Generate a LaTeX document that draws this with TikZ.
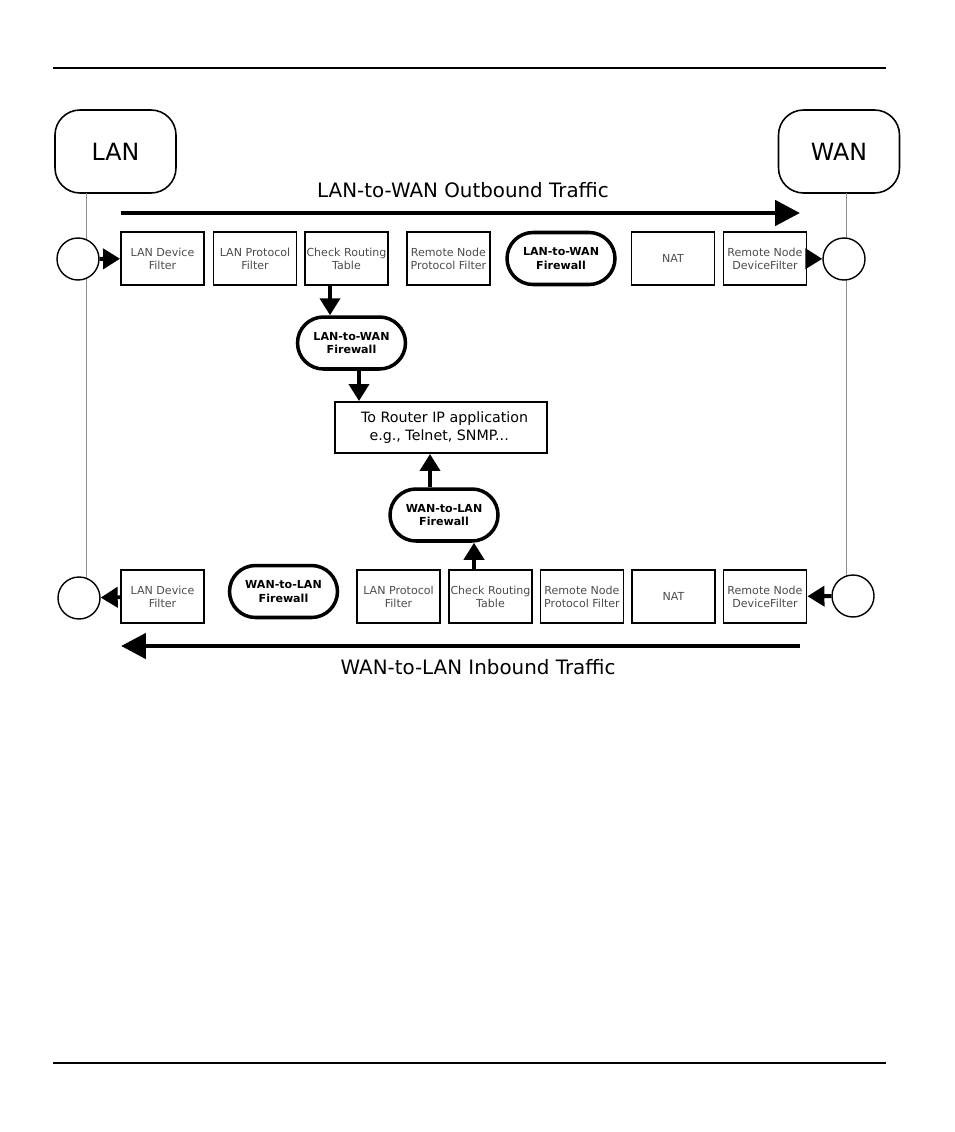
\documentclass[tikz,border=0pt]{standalone}
\usepackage{fontspec}
\setmainfont{DejaVu Sans}
\usetikzlibrary{arrows.meta,shapes.misc}
\tikzset{
filterbox/.style={draw, line width=1.1pt, minimum width=1.66cm, minimum height=1.06cm,
  inner sep=0pt, align=center, text=black!70, font=\fontsize{6.3}{7.4}\selectfont},
firewall/.style={draw, line width=2pt, rounded rectangle, minimum width=2.16cm,
  minimum height=1.04cm, inner sep=0pt, align=center, font=\bfseries\fontsize{6.3}{7.6}\selectfont},
site/.style={draw, line width=0.9pt, rounded corners=0.5cm, minimum width=2.42cm,
  minimum height=1.66cm, inner sep=0pt, font=\fontsize{13.5}{16}\selectfont},
port/.style={draw, circle, fill=white, line width=0.8pt, minimum size=0.84cm, inner sep=0pt},
hop/.style={line width=2.2pt, -{Triangle[length=0.34cm,width=0.4cm]}},
flow/.style={line width=2.8pt, -{Triangle[length=0.5cm,width=0.5cm]}},
wire/.style={black!45, line width=0.5pt},
flowtext/.style={font=\fontsize{11.3}{13}\selectfont, inner sep=0pt}
}
\begin{document}
\begin{tikzpicture}[x=0.02cm, y=-0.02cm]
\useasboundingbox (0,0) rectangle (954,1132);
% page rules
\coordinate (ruleA) at (53,68);  \coordinate (ruleB) at (886,68);
\coordinate (ruleC) at (53,1063); \coordinate (ruleD) at (886,1063);
\draw[line width=0.6pt] (ruleA) -- (ruleB);
\draw[line width=0.6pt] (ruleC) -- (ruleD);

% the two sides
\node[site] (lan) at (115.5,151.5) {LAN};
\node[site] (wan) at (839,151.5) {WAN};
\coordinate (lanTop) at (86,193);  \coordinate (lanBot) at (86,578);
\coordinate (wanTop) at (846,193); \coordinate (wanBot) at (846,578);
\draw[wire] (lanTop) -- (lanBot);
\draw[wire] (wanTop) -- (wanBot);

% outbound row
\node[port] (outL) at (78,259) {};
\node[filterbox] (ldfOut) at (162.5,258.5) {LAN Device\\Filter};
\node[filterbox] (lpfOut) at (255,258.5) {LAN Protocol\\Filter};
\node[filterbox] (crtOut) at (346.5,258.5) {Check Routing\\Table};
\node[filterbox] (rnpfOut) at (448.5,258.5) {Remote Node\\Protocol Filter};
\node[firewall] (fwOut) at (561,258.5) {LAN-to-WAN\\Firewall};
\node[filterbox] (natOut) at (673,258.5) {NAT};
\node[filterbox] (rndfOut) at (765,258.5) {Remote Node\\DeviceFilter};
\node[port] (outR) at (844,259) {};
\draw[hop] (outL) -- (ldfOut);
\draw[hop] (rndfOut) -- (outR);

\node[flowtext] (outText) at (463,190) {LAN-to-WAN Outbound Traffic};
\coordinate (outA) at (121,213); \coordinate (outB) at (800,213);
\draw[flow] (outA) -- (outB);

% router in the middle
\node[firewall] (fwMidOut) at (351.5,343) {LAN-to-WAN\\Firewall};
\node[draw, line width=1.1pt, minimum width=4.24cm, minimum height=1.02cm, inner sep=0pt,
  align=left, font=\fontsize{8.1}{10.5}\selectfont] (router) at (441,427.5)
  {\hspace{0.5em}To Router IP application\\\hspace{1.1em}e.g., Telnet, SNMP...};
\node[firewall] (fwMidIn) at (444,515) {WAN-to-LAN\\Firewall};
\draw[hop] ([xshift=-0.33cm]crtOut.south) -- ([xshift=-0.33cm]crtOut.south |- fwMidOut.north);
\draw[hop] ([xshift=0.15cm]fwMidOut.south) -- ([xshift=0.15cm]fwMidOut.south |- router.north);

% inbound row
\node[port] (inL) at (79,598) {};
\node[filterbox] (ldfIn) at (162.5,596.5) {LAN Device\\Filter};
\node[firewall] (fwIn) at (283.5,591.5) {WAN-to-LAN\\Firewall};
\node[filterbox] (lpfIn) at (398.5,596.5) {LAN Protocol\\Filter};
\node[filterbox] (crtIn) at (490.5,596.5) {Check Routing\\Table};
\node[filterbox] (rnpfIn) at (582,596.5) {Remote Node\\Protocol Filter};
\node[filterbox] (natIn) at (673.5,596.5) {NAT};
\node[filterbox] (rndfIn) at (765,596.5) {Remote Node\\DeviceFilter};
\node[port] (inR) at (853,596) {};
\draw[hop] (inR) -- (rndfIn);
\draw[hop] (ldfIn) -- (inL);
\draw[hop] ([xshift=-0.33cm]crtIn.north) -- ([xshift=-0.33cm]crtIn.north |- fwMidIn.south);
\draw[hop] ([xshift=-0.28cm]fwMidIn.north) -- ([xshift=-0.28cm]fwMidIn.north |- router.south);

\coordinate (inA) at (800,646); \coordinate (inB) at (121,646);
\draw[flow] (inA) -- (inB);
\node[flowtext] (inText) at (478,667) {WAN-to-LAN Inbound Traffic};
\end{tikzpicture}
\end{document}
